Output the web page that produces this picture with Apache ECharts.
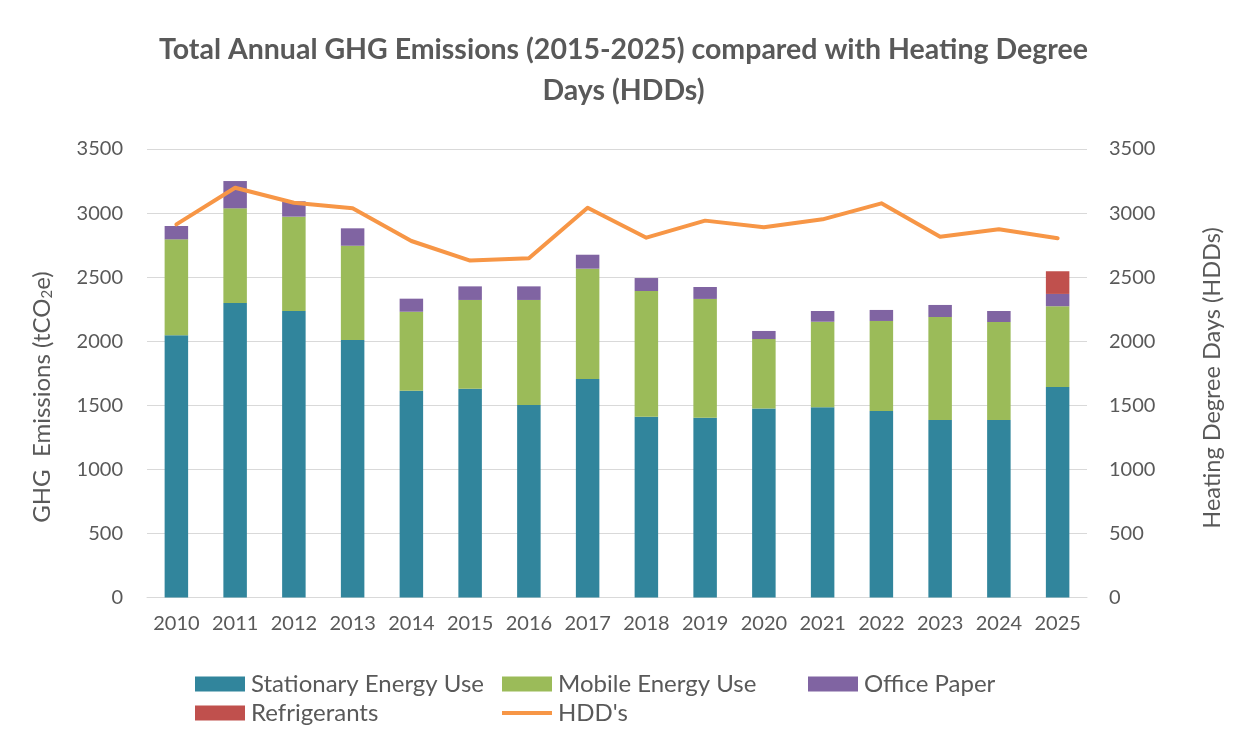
<!DOCTYPE html>
<html>
<head>
<meta charset="utf-8">
<script src="https://cdn.jsdelivr.net/npm/echarts@6/dist/echarts.min.js"></script>
<style>html,body{margin:0;padding:0;background:#fff}#c{width:1247px;height:744px}</style>
</head>
<body>
<div id="c"></div>
<script>
const years = ['2010','2011','2012','2013','2014','2015','2016','2017','2018','2019','2020','2021','2022','2023','2024','2025'];
const stationary = [2046, 2298, 2236, 2010, 1614, 1630, 1502, 1705, 1411, 1403, 1474, 1484, 1455, 1385, 1385, 1643];
const mobile = [749, 739, 736, 735, 616, 692, 820, 861, 981, 927, 543, 668, 703, 804, 765, 630];
const paper = [104, 213, 120, 136, 102, 106, 106, 109, 101, 93, 63, 84, 86, 94, 86, 96];
const refrigerants = [0, 0, 0, 0, 0, 0, 0, 0, 0, 0, 0, 0, 0, 0, 0, 177];
const hdd = [2912, 3198, 3081, 3037, 2782, 2629, 2647, 3042, 2808, 2941, 2889, 2951, 3076, 2816, 2873, 2803];
const axisTicks = [0, 500, 1000, 1500, 2000, 2500, 3000, 3500];

const FONT = "Lato, 'Open Sans', 'Liberation Sans', sans-serif";
const GREY = '#595959';
const chart = echarts.init(document.getElementById('c'));

function leg(name, left, top, icon) {
  return {
    data: [name], left: left, top: top, orient: 'horizontal',
    itemWidth: 50, itemHeight: 15, itemGap: 0, padding: 0,
    icon: icon || 'rect',
    textStyle: { fontFamily: FONT, fontSize: 24, color: GREY, padding: [0, 0, 0, 1] }
  };
}

chart.setOption({
  animation: false,
  backgroundColor: '#fff',
  title: {
    text: 'Total Annual GHG Emissions (2015-2025) compared with Heating Degree\nDays (HDDs)',
    left: 'center', top: 24,
    textStyle: { fontFamily: FONT, fontSize: 28.5, fontWeight: 'bold', color: GREY, lineHeight: 41 }
  },
  legend: [
    leg('Stationary Energy Use', 195, 672),
    leg('Mobile Energy Use', 502, 672),
    leg('Office Paper', 808, 672),
    leg('Refrigerants', 195, 701),
    leg("HDD's", 502, 701, 'path://M0,6 L50,6 L50,10 L0,10 Z')
  ],
  grid: { left: 147, right: 160, top: 149, bottom: 146.5 },
  xAxis: {
    type: 'category', data: years,
    axisLine: { lineStyle: { color: '#d9d9d9', width: 1 } },
    axisTick: { show: false },
    axisLabel: { fontFamily: FONT, fontSize: 20, color: GREY, margin: 16, interval: 0 }
  },
  yAxis: [
    {
      type: 'value', min: axisTicks[0], max: axisTicks[axisTicks.length - 1], interval: 500,
      axisLine: { show: false }, axisTick: { show: false },
      splitLine: { lineStyle: { color: '#d9d9d9', width: 1 } },
      axisLabel: { fontFamily: FONT, fontSize: 20, color: GREY, margin: 24, formatter: v => String(v) }
    },
    {
      type: 'value', min: axisTicks[0], max: axisTicks[axisTicks.length - 1], interval: 500,
      axisLine: { show: false }, axisTick: { show: false },
      splitLine: { show: false },
      axisLabel: { fontFamily: FONT, fontSize: 20, color: GREY, margin: 22, formatter: v => String(v) }
    }
  ],
  graphic: [
    {
      type: 'text', x: 42, y: 397, rotation: Math.PI / 2,
      style: {
        text: '{a|GHG  Emissions (tCO}{s|2}{a|e)}',
        rich: {
          a: { fontFamily: FONT, fontSize: 24, fill: GREY },
          s: { fontFamily: FONT, fontSize: 15, fill: GREY, padding: [10, 0, 0, 0] }
        },
        align: 'center', verticalAlign: 'middle'
      }
    },
    {
      type: 'text', x: 1212, y: 378, rotation: Math.PI / 2,
      style: {
        text: 'Heating Degree Days (HDDs)',
        fontFamily: FONT, fontSize: 23.5, fill: GREY,
        align: 'center', verticalAlign: 'middle'
      }
    }
  ],
  series: [
    { name: 'Stationary Energy Use', type: 'bar', stack: 'e', data: stationary, barWidth: 23.5, itemStyle: { color: '#31859C' } },
    { name: 'Mobile Energy Use', type: 'bar', stack: 'e', data: mobile, itemStyle: { color: '#9BBB59' } },
    { name: 'Office Paper', type: 'bar', stack: 'e', data: paper, itemStyle: { color: '#8064A2' } },
    { name: 'Refrigerants', type: 'bar', stack: 'e', data: refrigerants, itemStyle: { color: '#C0504D' } },
    { name: "HDD's", type: 'line', yAxisIndex: 1, data: hdd, showSymbol: false, symbol: 'none',
      lineStyle: { color: '#F79646', width: 4, cap: 'round', join: 'round' }, itemStyle: { color: '#F79646' } }
  ]
});
</script>
</body>
</html>
